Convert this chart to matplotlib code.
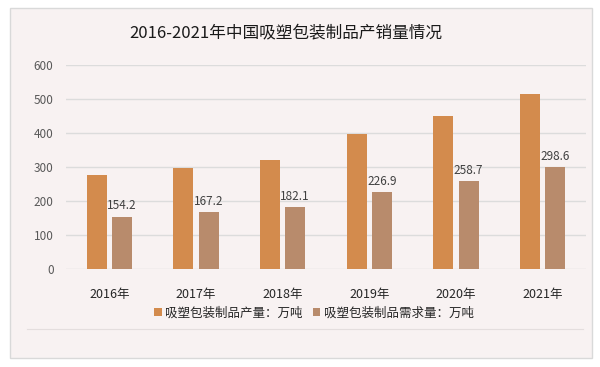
import matplotlib.pyplot as plt
import matplotlib as mpl
import numpy as np
from matplotlib.patches import Rectangle
from matplotlib.lines import Line2D

mpl.use('Agg')
plt.rcParams['font.family'] = ['Noto Sans CJK SC', 'DejaVu Sans']

years = ['2016年', '2017年', '2018年', '2019年', '2020年', '2021年']
production = [277, 297, 322, 397, 450, 515]
demand = [154.2, 167.2, 182.1, 226.9, 258.7, 298.6]
series_names = ['吸塑包装制品产量：万吨', '吸塑包装制品需求量：万吨']
title = '2016-2021年中国吸塑包装制品产销量情况'

bg = '#f8f2f2'
c_prod = '#d38b4d'
c_dem = '#b88b6c'

fig = plt.figure(figsize=(6, 3.67), dpi=100)
fig.patch.set_facecolor('white')

# chart frame, kept behind the axes
fig.patches.append(Rectangle((10 / 600, 1 - 358 / 367), 582 / 600, 350 / 367,
                             transform=fig.transFigure, facecolor=bg,
                             edgecolor='#d9d9d9', linewidth=1, zorder=-2))
fig.lines.append(Line2D([27 / 600, 583 / 600], [1 - 329 / 367, 1 - 329 / 367],
                        transform=fig.transFigure, color='#e4dede', linewidth=0.8, zorder=-1))

ax = fig.add_axes([66 / 600, 1 - 269 / 367, 520 / 600, 204 / 367])
ax.set_facecolor('none')

x = np.arange(len(years))
w = 0.23
gap = 0.06
b1 = ax.bar(x - (w + gap) / 2, production, w, color=c_prod, label=series_names[0], zorder=3)
b2 = ax.bar(x + (w + gap) / 2, demand, w, color=c_dem, label=series_names[1], zorder=3)

for xi, v in zip(x, demand):
    ax.text(xi + (w + gap) / 2, v + 12, f'{v:.1f}', ha='center', va='bottom',
            fontsize=8.5, color='#404040', zorder=4)

ax.set_ylim(0, 600)
ax.set_xlim(-0.5, len(years) - 0.5)
ax.set_yticks(range(0, 601, 100))
ax.yaxis.grid(True, color='#dcdcdc', linewidth=1, zorder=0)
ax.set_axisbelow(True)
for s in ax.spines.values():
    s.set_visible(False)
ax.tick_params(axis='both', length=0)
ax.tick_params(axis='y', labelsize=8.5, labelcolor='#595959', pad=9)
ax.set_xticks(x)
ax.set_xticklabels(years, fontsize=9, color='#262626')
ax.tick_params(axis='x', pad=14)

fig.text(286 / 600, 1 - 33 / 367, title, ha='center', va='center', fontsize=12, color='#1a1a1a')

fig.legend(handles=[b1, b2], loc='center', bbox_to_anchor=(314 / 600, 1 - 313 / 367),
           ncol=2, frameon=False, fontsize=9, handlelength=0.6, handleheight=0.6,
           handletextpad=0.3, columnspacing=0.8, labelcolor='#262626')

plt.savefig('out.png', dpi=100, facecolor=fig.get_facecolor())
